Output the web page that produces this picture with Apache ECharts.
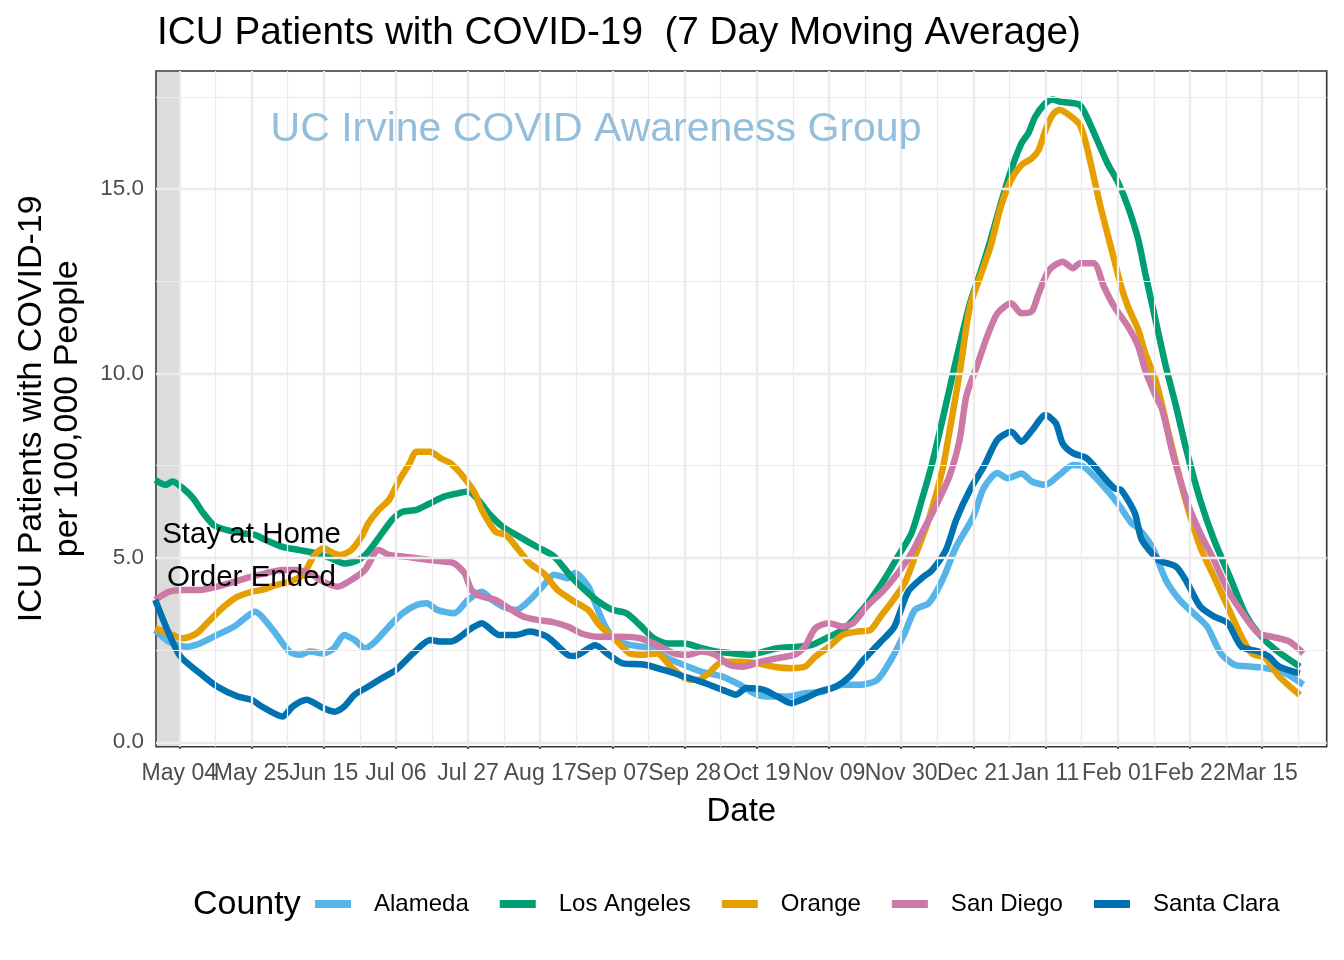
<!DOCTYPE html>
<html><head><meta charset="utf-8">
<script src="https://cdn.jsdelivr.net/npm/echarts@6/dist/echarts.min.js"></script>
<style>html,body{margin:0;padding:0;background:#fff}#chart{width:1344px;height:960px}</style>
</head><body><div id="chart"></div>
<script>
// x values are days since 2020-05-04
const tickDays = [0,21,42,63,84,105,126,147,168,189,210,231,252,273,294,315];
const tickLabels = ['May 04','May 25','Jun 15','Jul 06','Jul 27','Aug 17','Sep 07','Sep 28','Oct 19','Nov 09','Nov 30','Dec 21','Jan 11','Feb 01','Feb 22','Mar 15'];
const yTicks = [0,5,10,15];
const yTickLabels = ['0.0','5.0','10.0','15.0'];
const counties = ['Alameda','Los Angeles','Orange','San Diego','Santa Clara'];
const colors = ['#56B4E9','#009E73','#E69F00','#CC79A7','#0072B2'];

const alameda = [[-7,3.04],[-3,2.73],[2,2.59],[6,2.68],[11,2.91],[16,3.14],[19,3.36],[22,3.54],[24,3.41],[28,2.95],[32,2.46],[35,2.37],[38,2.46],[42,2.41],[45,2.55],[48,2.91],[51,2.77],[54,2.55],[57,2.73],[61,3.14],[65,3.50],[69,3.72],[72,3.77],[75,3.59],[80,3.50],[84,3.86],[88,4.08],[91,3.86],[94,3.68],[98,3.59],[102,3.86],[106,4.26],[109,4.54],[113,4.45],[115,4.59],[119,4.22],[121,3.77],[124,3.13],[127,2.77],[131,2.64],[137,2.55],[142,2.28],[148,2.05],[152,1.91],[158,1.78],[163,1.56],[168,1.29],[172,1.24],[177,1.24],[182,1.33],[187,1.37],[193,1.56],[198,1.56],[203,1.69],[207,2.23],[211,2.95],[214,3.59],[218,3.77],[222,4.40],[226,5.30],[231,6.12],[234,6.89],[238,7.30],[241,7.16],[245,7.29],[248,7.07],[252,6.98],[256,7.25],[260,7.52],[263,7.48],[268,7.03],[273,6.48],[277,5.94],[279,5.80],[283,5.30],[287,4.40],[291,3.86],[295,3.50],[299,3.14],[303,2.41],[307,2.10],[312,2.05],[316,2.01],[321,1.91],[327,1.56]];
const losAngeles = [[-7,7.11],[-4,6.98],[-2,7.07],[1,6.89],[4,6.62],[7,6.21],[10,5.89],[14,5.75],[18,5.67],[22,5.62],[25,5.49],[30,5.30],[35,5.21],[40,5.12],[44,4.99],[48,4.85],[52,4.94],[55,5.17],[59,5.67],[62,6.04],[65,6.25],[69,6.30],[73,6.48],[77,6.66],[81,6.75],[84,6.80],[87,6.57],[90,6.21],[94,5.85],[99,5.57],[104,5.30],[109,5.04],[114,4.49],[119,4.04],[122,3.81],[126,3.59],[130,3.50],[134,3.18],[138,2.82],[142,2.68],[147,2.68],[152,2.55],[156,2.46],[161,2.41],[166,2.37],[170,2.46],[174,2.55],[180,2.59],[184,2.64],[189,2.86],[193,3.04],[197,3.41],[201,3.86],[205,4.40],[209,5.03],[213,5.67],[216,6.57],[219,7.56],[222,8.74],[226,10.37],[230,11.9],[233,12.72],[236,13.62],[239,14.61],[242,15.52],[245,16.24],[247,16.51],[249,16.96],[252,17.33],[254,17.43],[256,17.37],[259,17.34],[262,17.28],[264,16.96],[267,16.33],[270,15.70],[273,15.2],[276,14.52],[279,13.62],[281,12.72],[284,11.45],[287,10.19],[290,9.10],[293,7.92],[297,6.57],[301,5.49],[306,4.40],[310,3.50],[314,2.95],[319,2.50],[326,2.05]];
const orange = [[-7,3.09],[-3,2.95],[1,2.82],[5,2.95],[9,3.32],[13,3.68],[17,3.95],[21,4.08],[24,4.13],[28,4.26],[32,4.35],[36,4.54],[39,5.03],[42,5.26],[45,5.12],[47,5.08],[50,5.21],[53,5.57],[55,5.94],[58,6.30],[61,6.57],[64,7.11],[67,7.56],[69,7.88],[73,7.88],[76,7.70],[79,7.56],[83,7.16],[86,6.75],[88,6.30],[92,5.71],[95,5.62],[98,5.30],[102,4.85],[106,4.58],[110,4.13],[115,3.81],[119,3.59],[122,3.2],[127,2.77],[131,2.41],[135,2.37],[139,2.41],[143,2.05],[147,1.74],[151,1.69],[154,1.87],[158,2.18],[163,2.18],[168,2.14],[173,2.05],[178,2.01],[182,2.05],[185,2.32],[189,2.59],[193,2.91],[197,3.00],[201,3.04],[204,3.41],[207,3.77],[211,4.31],[214,5.03],[218,6.03],[222,7.38],[224,8.4],[227,10.0],[230,11.81],[233,12.63],[236,13.44],[239,14.52],[242,15.25],[245,15.65],[248,15.83],[250,16.06],[252,16.6],[254,17.0],[256,17.15],[259,17.0],[262,16.74],[264,16.15],[266,15.34],[268,14.52],[271,13.44],[274,12.36],[276,11.81],[279,11.18],[281,10.55],[284,9.82],[286,9.10],[289,7.92],[293,6.48],[297,5.30],[301,4.49],[305,3.68],[309,2.86],[312,2.41],[316,2.28],[320,1.78],[326,1.28]];
const sanDiego = [[-7,3.86],[-3,4.08],[1,4.13],[6,4.13],[11,4.22],[16,4.35],[21,4.49],[25,4.58],[30,4.67],[34,4.67],[38,4.58],[42,4.35],[46,4.22],[50,4.40],[54,4.67],[58,5.21],[61,5.08],[65,5.04],[69,4.99],[73,4.94],[77,4.90],[80,4.85],[83,4.58],[85,4.13],[88,3.95],[92,3.86],[96,3.63],[100,3.41],[104,3.32],[108,3.27],[113,3.14],[117,2.95],[122,2.86],[129,2.86],[134,2.82],[139,2.64],[144,2.41],[148,2.37],[152,2.46],[156,2.37],[160,2.10],[164,2.05],[169,2.18],[174,2.28],[179,2.37],[182,2.59],[185,3.09],[189,3.23],[193,3.14],[196,3.23],[200,3.68],[205,4.13],[209,4.58],[213,5.12],[216,5.67],[220,6.39],[224,7.20],[227,8.2],[229,9.4],[232,10.19],[235,11.0],[238,11.63],[242,11.9],[245,11.63],[248,11.68],[250,12.17],[253,12.80],[257,13.03],[260,12.85],[262,12.99],[266,12.99],[269,12.35],[272,11.81],[276,11.27],[279,10.73],[281,10.09],[284,9.4],[286,9.0],[289,7.83],[293,6.57],[297,5.67],[301,4.94],[305,4.13],[310,3.41],[314,2.95],[318,2.86],[323,2.73],[327,2.41]];
const santaClara = [[-7,3.86],[0,2.37],[6,1.87],[11,1.51],[17,1.24],[21,1.15],[24,0.97],[30,0.70],[33,0.97],[37,1.15],[42,0.92],[45,0.83],[48,0.97],[51,1.29],[55,1.51],[59,1.74],[63,1.96],[68,2.41],[73,2.77],[76,2.73],[79,2.73],[85,3.09],[88,3.23],[93,2.91],[98,2.91],[102,3.0],[107,2.86],[113,2.37],[115,2.34],[121,2.63],[125,2.37],[129,2.14],[135,2.11],[141,1.96],[147,1.78],[153,1.60],[158,1.42],[162,1.29],[165,1.47],[170,1.42],[174,1.24],[178,1.06],[182,1.19],[186,1.37],[191,1.51],[195,1.78],[199,2.23],[204,2.72],[208,3.13],[212,4.08],[216,4.45],[219,4.67],[223,5.21],[226,6.03],[230,6.84],[234,7.47],[238,8.2],[242,8.42],[245,8.15],[248,8.45],[252,8.87],[255,8.65],[257,8.10],[260,7.84],[264,7.70],[268,7.29],[272,6.89],[274,6.84],[278,6.21],[280,5.49],[285,4.94],[290,4.76],[293,4.36],[297,3.68],[301,3.41],[305,3.23],[309,2.59],[314,2.46],[317,2.32],[320,2.05],[326,1.87]];
const seriesData = [alameda, losAngeles, orange, sanDiego, santaClara];

const stayHomeEnd = 0;          // shaded period ends May 04
const annotationAt = [21, 5.04];

const FONT = "'Liberation Sans', Arial, Helvetica, sans-serif";
const xMin = -6.78, xMax = 333.8, yMin = -0.12, yMax = 18.2;
const GRID = '#EBEBEB';

// gridlines (major at ticks, minor halfway)
const gridLines = [];
tickDays.forEach(d => {
  gridLines.push({xAxis: d, lineStyle: {color: GRID, width: 2.3, type: 'solid'}});
  const mid = d + 10.5;
  if (mid < xMax) gridLines.push({xAxis: mid, lineStyle: {color: GRID, width: 1.2, type: 'solid'}});
});
yTicks.forEach(v => {
  gridLines.push({yAxis: v, lineStyle: {color: GRID, width: 2.3, type: 'solid'}});
  const mid = v + 2.5;
  if (mid < yMax) gridLines.push({yAxis: mid, lineStyle: {color: GRID, width: 1.2, type: 'solid'}});
});

// tick labels split over two stacked axes so neighbouring labels never get auto-hidden
const evenDays = tickDays.filter((d, i) => i % 2 === 0);
const oddDays = tickDays.filter((d, i) => i % 2 === 1);
const labelFor = v => tickLabels[tickDays.indexOf(Math.round(v))];
const xLabelStyle = {color: '#4D4D4D', fontSize: 23, margin: 15, fontFamily: FONT, hideOverlap: false, showMinLabel: true, showMaxLabel: true, formatter: labelFor};

const chart = echarts.init(document.getElementById('chart'), null, {renderer: 'canvas'});
const series = [
  {type: 'line', name: '_grid', data: [], z: 1, silent: true,
   markLine: {silent: true, symbol: ['none', 'none'], label: {show: false}, animation: false, data: gridLines}}
].concat(counties.map((name, i) => ({
  type: 'line', name, data: seriesData[i], showSymbol: false, smooth: 0.25, z: 3,
  lineStyle: {width: 6.5, color: colors[i]}, itemStyle: {color: colors[i]}
}))).concat([
  {type: 'line', name: '_shade', data: [], z: 5, silent: true,
   markArea: {silent: true, itemStyle: {color: 'rgba(127,127,127,0.27)'},
     data: [[{xAxis: xMin}, {xAxis: stayHomeEnd}]]}},
  {type: 'line', name: '_note', data: [], z: 6, silent: true,
   markPoint: {silent: true, symbol: 'circle', symbolSize: 1, itemStyle: {color: 'rgba(0,0,0,0)'},
     label: {show: true, position: 'inside', formatter: 'Stay at Home\nOrder Ended', fontSize: 29.5, lineHeight: 43, color: '#000', fontFamily: FONT},
     data: [{coord: annotationAt}]}}
]);

chart.setOption({
  animation: false,
  backgroundColor: '#fff',
  textStyle: {fontFamily: FONT},
  title: {text: 'ICU Patients with COVID-19  (7 Day Moving Average)', left: 157, top: 14, padding: 0,
    textStyle: {fontSize: 38.7, fontWeight: 'normal', color: '#000', fontFamily: FONT}},
  grid: {left: 156, right: 17.3, top: 71, bottom: 213.3, show: true, borderColor: '#333', borderWidth: 1.6, backgroundColor: '#fff'},
  xAxis: [
    {type: 'value', min: xMin, max: xMax, position: 'bottom',
      splitLine: {show: false}, axisLine: {show: false},
      axisTick: {show: true, customValues: tickDays, length: 6.5, lineStyle: {color: '#333', width: 2}},
      axisLabel: Object.assign({customValues: evenDays}, xLabelStyle),
      name: 'Date', nameLocation: 'middle', nameGap: 49, nameTextStyle: {fontSize: 33, color: '#000', fontFamily: FONT}},
    {type: 'value', min: xMin, max: xMax, position: 'bottom', offset: 0,
      splitLine: {show: false}, axisLine: {show: false}, axisTick: {show: false},
      axisLabel: Object.assign({customValues: oddDays}, xLabelStyle)}
  ],
  yAxis: {type: 'value', min: yMin, max: yMax,
    splitLine: {show: false}, axisLine: {show: false},
    axisTick: {show: true, customValues: yTicks, length: 6.5, lineStyle: {color: '#333', width: 2}},
    axisLabel: {customValues: yTicks, showMinLabel: true, showMaxLabel: true,
      formatter: v => yTickLabels[yTicks.indexOf(Math.round(v))], color: '#4D4D4D', fontSize: 22.5, margin: 12, fontFamily: FONT},
    name: 'ICU Patients with COVID-19\nper 100,000 People', nameLocation: 'middle', nameGap: 70,
    nameTextStyle: {fontSize: 34, lineHeight: 36, color: '#000', align: 'center', fontFamily: FONT}},
  legend: {data: counties, left: 315, top: 890, padding: 0, icon: 'rect', itemWidth: 36, itemHeight: 8, itemGap: 31, selectedMode: false,
    textStyle: {fontSize: 24, lineHeight: 28, color: '#000', padding: [0, 0, 0, 18], fontFamily: FONT}},
  graphic: [
    {type: 'text', left: 193, top: 888, z: 10, style: {text: 'County', fontSize: 34, fill: '#000', fontFamily: FONT}},
    {type: 'text', x: 596, y: 130, z: 10, style: {text: 'UC Irvine COVID Awareness Group', fontSize: 41, fill: '#93bfdc', align: 'center', verticalAlign: 'middle', fontFamily: FONT}}
  ],
  series
});
</script></body></html>
